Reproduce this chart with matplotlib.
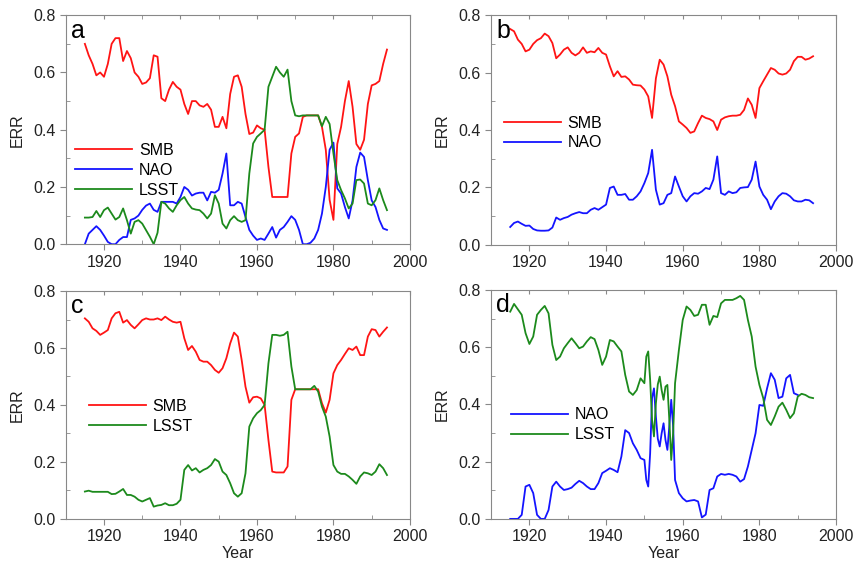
import numpy as np
import matplotlib
matplotlib.use('Agg')
import matplotlib.pyplot as plt
from matplotlib.ticker import MultipleLocator

plt.rcParams['font.family'] = ['Liberation Sans', 'DejaVu Sans']

# yearly values 1915-1994 for panels a, b, c
years = list(range(1915, 1995))

smb_a = [0.70, 0.66, 0.63, 0.59, 0.60, 0.585, 0.63, 0.70, 0.72, 0.72,
         0.64, 0.675, 0.65, 0.60, 0.585, 0.56, 0.565, 0.58, 0.66, 0.655,
         0.51, 0.50, 0.54, 0.567, 0.55, 0.54, 0.49, 0.455, 0.50, 0.50,
         0.485, 0.48, 0.49, 0.47, 0.41, 0.41, 0.445, 0.405, 0.525, 0.585,
         0.59, 0.55, 0.455, 0.385, 0.39, 0.415, 0.405, 0.40, 0.27, 0.165,
         0.165, 0.165, 0.165, 0.165, 0.317, 0.375, 0.387, 0.445, 0.45, 0.45,
         0.45, 0.45, 0.41, 0.33, 0.155, 0.085, 0.35, 0.41, 0.50, 0.57,
         0.48, 0.35, 0.33, 0.365, 0.49, 0.555, 0.56, 0.57, 0.63, 0.68]
nao_a = [0.0, 0.037, 0.05, 0.063, 0.05, 0.03, 0.008, 0.0, 0.0, 0.015,
         0.025, 0.025, 0.085, 0.09, 0.10, 0.12, 0.135, 0.142, 0.12, 0.113,
         0.148, 0.148, 0.148, 0.148, 0.142, 0.165, 0.20, 0.19, 0.17, 0.177,
         0.18, 0.18, 0.153, 0.183, 0.18, 0.19, 0.247, 0.317, 0.136, 0.136,
         0.148, 0.142, 0.095, 0.05, 0.03, 0.015, 0.02, 0.015, 0.037, 0.06,
         0.023, 0.05, 0.06, 0.078, 0.098, 0.085, 0.05, 0.0, 0.0, 0.005,
         0.02, 0.05, 0.107, 0.20, 0.33, 0.355, 0.195, 0.177, 0.13, 0.09,
         0.153, 0.27, 0.32, 0.305, 0.224, 0.153, 0.13, 0.085, 0.055, 0.05]
lsst_a = [0.093, 0.093, 0.095, 0.116, 0.095, 0.119, 0.128, 0.107, 0.086, 0.095,
          0.125, 0.084, 0.037, 0.078, 0.084, 0.072, 0.049, 0.026, 0.0, 0.04,
          0.148, 0.142, 0.125, 0.113, 0.136, 0.154, 0.165, 0.142, 0.125, 0.121,
          0.119, 0.107, 0.09, 0.107, 0.171, 0.142, 0.072, 0.055, 0.084, 0.098,
          0.084, 0.078, 0.084, 0.247, 0.352, 0.375, 0.387, 0.40, 0.55, 0.585,
          0.62, 0.60, 0.585, 0.61, 0.50, 0.45, 0.447, 0.45, 0.45, 0.45,
          0.45, 0.45, 0.412, 0.445, 0.42, 0.317, 0.224, 0.189, 0.16, 0.125,
          0.142, 0.224, 0.226, 0.212, 0.142, 0.136, 0.154, 0.195, 0.154, 0.119]

smb_b = [0.752, 0.744, 0.715, 0.70, 0.674, 0.68, 0.70, 0.713, 0.72, 0.736,
         0.727, 0.703, 0.65, 0.663, 0.68, 0.688, 0.669, 0.66, 0.669, 0.688,
         0.669, 0.674, 0.671, 0.686, 0.669, 0.663, 0.622, 0.587, 0.605, 0.585,
         0.587, 0.576, 0.558, 0.556, 0.555, 0.541, 0.517, 0.442, 0.58, 0.645,
         0.628, 0.587, 0.523, 0.483, 0.43, 0.419, 0.407, 0.39, 0.395, 0.424,
         0.45, 0.442, 0.438, 0.43, 0.40, 0.436, 0.444, 0.448, 0.45, 0.45,
         0.453, 0.47, 0.51, 0.488, 0.442, 0.546, 0.57, 0.593, 0.616, 0.61,
         0.597, 0.593, 0.597, 0.61, 0.64, 0.655, 0.655, 0.645, 0.649, 0.657]
nao_b = [0.062, 0.076, 0.081, 0.073, 0.066, 0.067, 0.055, 0.05, 0.049, 0.049,
         0.05, 0.06, 0.095, 0.087, 0.093, 0.097, 0.105, 0.11, 0.114, 0.11,
         0.11, 0.122, 0.128, 0.122, 0.131, 0.14, 0.198, 0.203, 0.174, 0.174,
         0.177, 0.157, 0.157, 0.169, 0.186, 0.215, 0.25, 0.331, 0.192, 0.14,
         0.145, 0.174, 0.18, 0.238, 0.203, 0.169, 0.151, 0.169, 0.18, 0.178,
         0.186, 0.198, 0.194, 0.227, 0.308, 0.18, 0.174, 0.186, 0.18, 0.183,
         0.198, 0.20, 0.201, 0.227, 0.29, 0.203, 0.174, 0.157, 0.124, 0.151,
         0.169, 0.18, 0.178, 0.169, 0.155, 0.151, 0.151, 0.157, 0.155, 0.145]

smb_c = [0.704, 0.692, 0.669, 0.66, 0.646, 0.654, 0.663, 0.704, 0.722, 0.727,
         0.689, 0.698, 0.681, 0.669, 0.683, 0.698, 0.704, 0.70, 0.70, 0.704,
         0.698, 0.71, 0.70, 0.692, 0.689, 0.692, 0.634, 0.593, 0.607, 0.587,
         0.558, 0.552, 0.552, 0.54, 0.523, 0.513, 0.529, 0.564, 0.616, 0.654,
         0.64, 0.558, 0.464, 0.408, 0.427, 0.429, 0.423, 0.40, 0.277, 0.166,
         0.163, 0.163, 0.163, 0.184, 0.418, 0.455, 0.455, 0.455, 0.455, 0.455,
         0.455, 0.455, 0.406, 0.373, 0.418, 0.511, 0.54, 0.558, 0.579, 0.599,
         0.593, 0.605, 0.575, 0.575, 0.64, 0.666, 0.663, 0.64, 0.657, 0.672]
lsst_c = [0.096, 0.099, 0.095, 0.095, 0.095, 0.095, 0.095, 0.087, 0.088, 0.096,
          0.105, 0.084, 0.084, 0.078, 0.067, 0.061, 0.067, 0.073, 0.043, 0.047,
          0.049, 0.055, 0.048, 0.048, 0.053, 0.067, 0.172, 0.189, 0.17, 0.178,
          0.163, 0.172, 0.178, 0.189, 0.21, 0.201, 0.166, 0.154, 0.125, 0.09,
          0.078, 0.09, 0.16, 0.324, 0.353, 0.371, 0.382, 0.40, 0.546, 0.646,
          0.646, 0.643, 0.646, 0.657, 0.535, 0.455, 0.455, 0.455, 0.455, 0.455,
          0.467, 0.447, 0.394, 0.359, 0.289, 0.189, 0.166, 0.158, 0.158, 0.149,
          0.137, 0.123, 0.149, 0.163, 0.16, 0.154, 0.166, 0.192, 0.178, 0.154]

# panel d: half-year steps through the 1950s oscillation
years_d = (list(range(1915, 1950))
           + [1950, 1950.5, 1951, 1951.5, 1952, 1952.5, 1953, 1953.5, 1954,
              1954.5, 1955, 1955.5, 1956, 1956.5, 1957, 1957.5, 1958]
           + list(range(1959, 1995)))
lsst_d = [0.724, 0.751, 0.732, 0.713, 0.649, 0.611, 0.637, 0.713, 0.73, 0.744,
          0.718, 0.608, 0.555, 0.567, 0.596, 0.614, 0.631, 0.614, 0.596, 0.602,
          0.62, 0.635, 0.628, 0.59, 0.538, 0.567, 0.625, 0.62, 0.602, 0.585,
          0.503, 0.445, 0.433, 0.45, 0.491,
          0.474, 0.567, 0.585, 0.486, 0.346, 0.288, 0.404, 0.47, 0.497,
          0.45, 0.416, 0.462, 0.468, 0.346, 0.206, 0.30, 0.474,
          0.59, 0.695, 0.742, 0.73, 0.709, 0.713, 0.748, 0.748, 0.678, 0.709,
          0.705, 0.753, 0.765, 0.765, 0.765, 0.771, 0.779, 0.765, 0.695, 0.637,
          0.532, 0.468, 0.422, 0.346, 0.328, 0.358, 0.392, 0.406, 0.381, 0.352,
          0.369, 0.427, 0.437, 0.433, 0.425, 0.422]
nao_d = [0.0, 0.0, 0.0, 0.014, 0.113, 0.119, 0.09, 0.014, 0.0, 0.0,
         0.031, 0.113, 0.13, 0.113, 0.101, 0.104, 0.109, 0.122, 0.133, 0.125,
         0.113, 0.104, 0.104, 0.125, 0.16, 0.168, 0.177, 0.171, 0.163, 0.218,
         0.31, 0.30, 0.264, 0.241, 0.212,
         0.206, 0.136, 0.113, 0.229, 0.422, 0.456, 0.357, 0.28, 0.253,
         0.299, 0.334, 0.276, 0.241, 0.323, 0.416, 0.323, 0.136,
         0.09, 0.072, 0.061, 0.064, 0.066, 0.061, 0.005, 0.015, 0.101, 0.107,
         0.148, 0.157, 0.154, 0.157, 0.154, 0.148, 0.13, 0.139, 0.183, 0.241,
         0.299, 0.398, 0.395, 0.456, 0.509, 0.486, 0.422, 0.427, 0.491, 0.503,
         0.439, 0.433]

RED = '#ff1414'
BLUE = '#1414ff'
GREEN = '#1c8a1c'

fig = plt.figure(figsize=(8.54, 5.64), dpi=100)
ax_a = fig.add_axes([0.077, 0.567, 0.403, 0.406])
ax_b = fig.add_axes([0.575, 0.566, 0.404, 0.407])
ax_c = fig.add_axes([0.077, 0.080, 0.403, 0.404])
ax_d = fig.add_axes([0.575, 0.080, 0.404, 0.406])


def style(ax, letter, xlabel=False):
    ax.set_xlim(1910, 2000)
    ax.set_ylim(0, 0.8)
    ax.xaxis.set_major_locator(MultipleLocator(20))
    ax.xaxis.set_minor_locator(MultipleLocator(10))
    ax.yaxis.set_major_locator(MultipleLocator(0.2))
    ax.yaxis.set_minor_locator(MultipleLocator(0.1))
    ax.yaxis.set_major_formatter(plt.FormatStrFormatter('%.1f'))
    for s in ax.spines.values():
        s.set_color('#888888')
    ax.tick_params(which='major', direction='out', length=4, color='#888888',
                   labelsize=11.5, labelcolor='#222222')
    ax.tick_params(which='minor', direction='in', length=3, color='#888888')
    top = ax.secondary_xaxis('top')
    top.xaxis.set_major_locator(MultipleLocator(20))
    top.xaxis.set_minor_locator(MultipleLocator(10))
    top.tick_params(which='both', direction='in', length=3, color='#888888',
                    labeltop=False)
    top.spines['top'].set_visible(False)
    ax.set_ylabel('ERR', fontsize=11.5, color='#222222', labelpad=6)
    if xlabel:
        ax.set_xlabel('Year', fontsize=11.5, color='#222222', labelpad=1)
    ax.text(0.015, 0.985, letter, transform=ax.transAxes, fontsize=18,
            va='top', ha='left')


lw = 1.3
leg_kw = dict(loc='upper left', frameon=False, fontsize=11.5,
              handlelength=3.6, labelspacing=0.3, handletextpad=0.4)

ax_a.plot(years, smb_a, color=RED, lw=lw, label='SMB')
ax_a.plot(years, nao_a, color=BLUE, lw=lw, label='NAO')
ax_a.plot(years, lsst_a, color=GREEN, lw=lw, label='LSST')
style(ax_a, 'a')
ax_a.legend(bbox_to_anchor=(-0.015, 0.505), **leg_kw)

ax_b.plot(years, smb_b, color=RED, lw=lw, label='SMB')
ax_b.plot(years, nao_b, color=BLUE, lw=lw, label='NAO')
style(ax_b, 'b')
ax_b.legend(bbox_to_anchor=(-0.005, 0.625), **leg_kw)

ax_c.plot(years, smb_c, color=RED, lw=lw, label='SMB')
ax_c.plot(years, lsst_c, color=GREEN, lw=lw, label='LSST')
style(ax_c, 'c', xlabel=True)
ax_c.legend(bbox_to_anchor=(0.025, 0.59), **leg_kw)

ax_d.plot(years_d[:len(nao_d)], nao_d, color=BLUE, lw=lw, label='NAO')
ax_d.plot(years_d, lsst_d, color=GREEN, lw=lw, label='LSST')
style(ax_d, 'd', xlabel=True)
ax_d.legend(bbox_to_anchor=(0.015, 0.55), **leg_kw)

fig.savefig('out.png', dpi=100)
